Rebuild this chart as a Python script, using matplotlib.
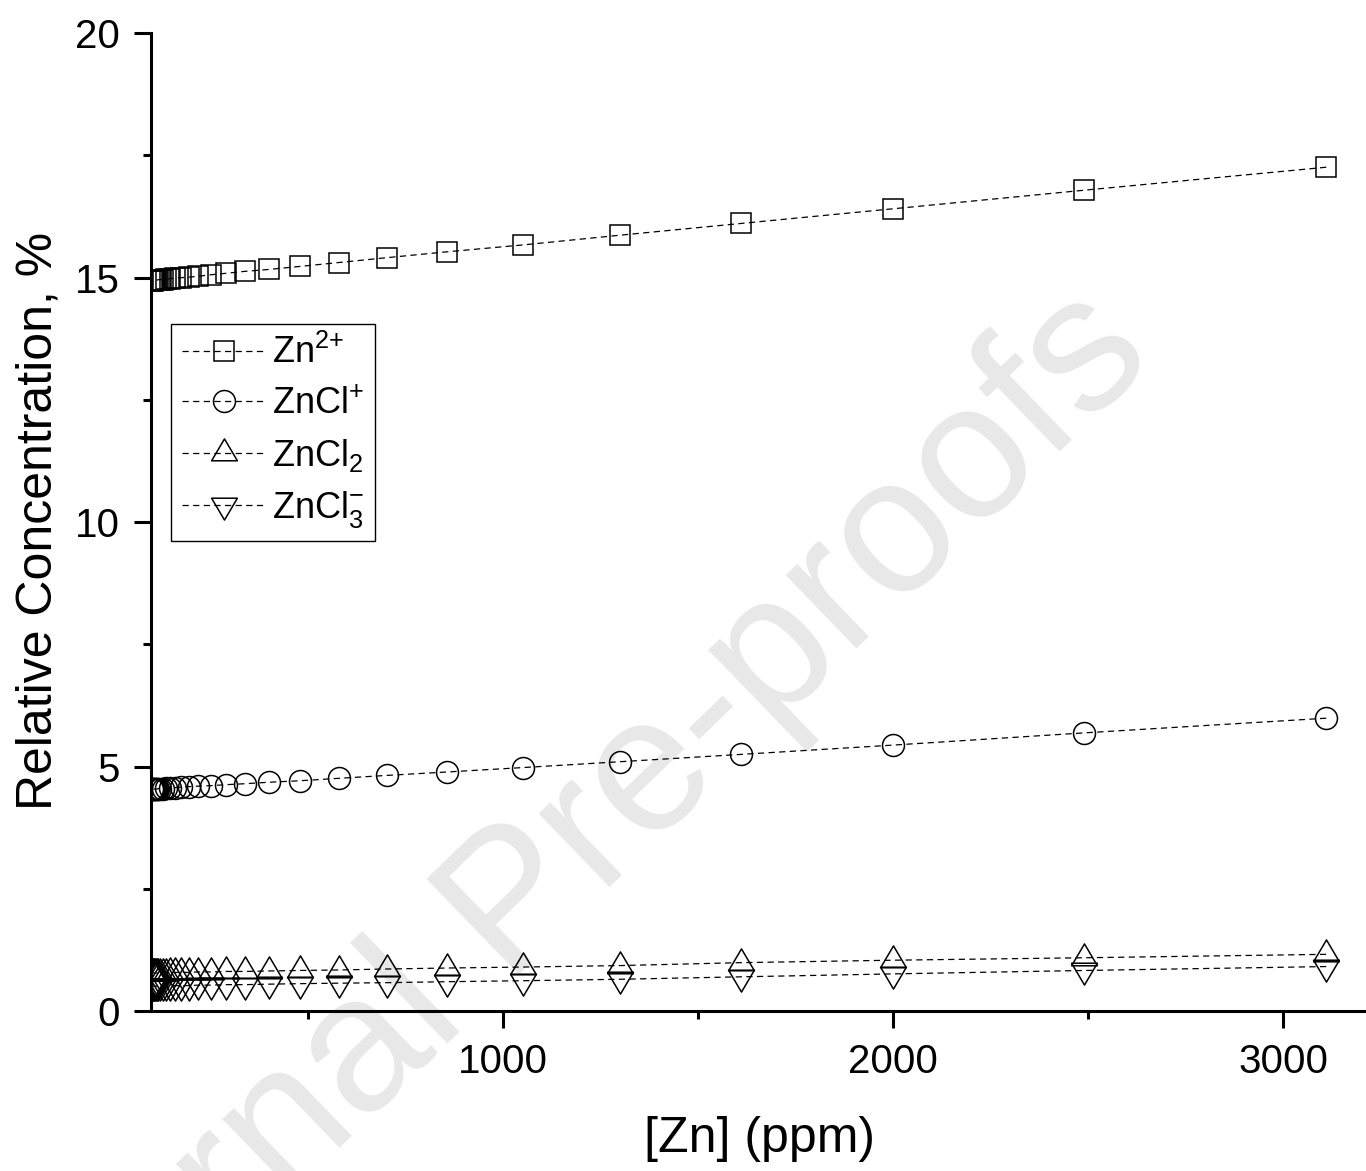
import matplotlib
matplotlib.use("Agg")
import matplotlib.pyplot as plt
from matplotlib.path import Path
from matplotlib.ticker import MultipleLocator

plt.rcParams['font.family'] = ['Liberation Sans', 'DejaVu Sans']
plt.rcParams['mathtext.fontset'] = 'custom'
plt.rcParams['mathtext.rm'] = 'Liberation Sans'
plt.rcParams['mathtext.it'] = 'Liberation Sans:italic'
plt.rcParams['mathtext.bf'] = 'Liberation Sans:bold'

# --- speciation data: total Zn (ppm) vs relative concentration (%) ---
zn_ppm = [3110, 2490, 2000, 1610, 1300, 1050, 856, 702, 578, 478,
          400, 338, 289, 250, 218, 193, 173, 158, 145, 135,
          127, 121, 116, 112, 109, 106, 104, 103, 101, 100]

zn2 = [17.26, 16.79, 16.41, 16.11, 15.87, 15.67, 15.53, 15.41, 15.31, 15.23,
       15.17, 15.13, 15.09, 15.06, 15.03, 15.01, 15.00, 14.99, 14.98, 14.97,
       14.96, 14.96, 14.96, 14.95, 14.95, 14.95, 14.95, 14.95, 14.94, 14.94]

zncl = [5.99, 5.69, 5.44, 5.25, 5.10, 4.98, 4.89, 4.82, 4.76, 4.71,
        4.68, 4.65, 4.63, 4.61, 4.60, 4.59, 4.58, 4.57, 4.56, 4.56,
        4.55, 4.55, 4.55, 4.54, 4.54, 4.54, 4.54, 4.54, 4.54, 4.54]

zncl2 = [1.16, 1.09, 1.04, 0.99, 0.93, 0.90, 0.88, 0.86, 0.84, 0.83,
         0.82, 0.81, 0.81, 0.80, 0.80, 0.79, 0.79, 0.79, 0.79, 0.78,
         0.78, 0.78, 0.78, 0.78, 0.78, 0.78, 0.78, 0.78, 0.78, 0.78]

zncl3 = [0.91, 0.83, 0.76, 0.70, 0.65, 0.62, 0.60, 0.58, 0.57, 0.56,
         0.55, 0.54, 0.54, 0.53, 0.53, 0.52, 0.52, 0.52, 0.52, 0.51,
         0.51, 0.51, 0.51, 0.51, 0.51, 0.51, 0.51, 0.51, 0.51, 0.51]

labels = [r'Zn$^{2{+}}$', r'ZnCl$^{{+}}$',
          r'ZnCl$_{2}$', r'ZnCl$_{3}^{{-}}$']

# triangles anchored on their centroid (Origin style)
tri_up = Path([(0, 2/3), (-0.59, -1/3), (0.59, -1/3), (0, 2/3)], closed=True)
tri_dn = Path([(0, -2/3), (-0.59, 1/3), (0.59, 1/3), (0, -2/3)], closed=True)

fig = plt.figure(figsize=(13.66, 11.71), dpi=100)
ax = fig.add_axes([0.1103, 0.1366, 0.8897, 0.835])
ax.set_facecolor('none')

fig.text(0.403, 0.253, 'Journal Pre-proofs', rotation=44, fontsize=139,
         color='#e8e8e8', ha='center', va='center', zorder=-1)

line_kw = dict(color='black', lw=0.9, dashes=(5, 3.5), mfc='none',
               mec='black', mew=1.1)
ax.plot(zn_ppm, zn2, marker='s', ms=14.4, label=labels[0], **line_kw)
ax.plot(zn_ppm, zncl, marker='o', ms=15.8, label=labels[1], **line_kw)
ax.plot(zn_ppm, zncl2, marker=tri_up, ms=21, label=labels[2], **line_kw)
ax.plot(zn_ppm, zncl3, marker=tri_dn, ms=21, label=labels[3], **line_kw)

ax.set_xlim(96, 3212)
ax.set_ylim(0, 20)
ax.xaxis.set_major_locator(MultipleLocator(1000))
ax.xaxis.set_minor_locator(MultipleLocator(500))
ax.yaxis.set_major_locator(MultipleLocator(5))
ax.yaxis.set_minor_locator(MultipleLocator(2.5))

for side in ('top', 'right'):
    ax.spines[side].set_visible(False)
for side in ('left', 'bottom'):
    ax.spines[side].set_linewidth(2.2)

ax.tick_params(which='major', direction='out', length=12, width=2.2,
               labelsize=29)
ax.tick_params(which='minor', direction='out', length=5.5, width=2.2)
ax.tick_params(axis='y', which='major', pad=10)
ax.tick_params(axis='x', which='major', pad=11)

ax.set_xlabel('[Zn] (ppm)', fontsize=36)
ax.set_ylabel('Relative Concentration, %', fontsize=36)
ax.xaxis.set_label_coords(0.501, -0.107)
ax.yaxis.set_label_coords(-0.073, 0.501)

leg = ax.legend(loc='upper left', bbox_to_anchor=(0.0167, 0.7025),
                borderaxespad=0, fontsize=26, fancybox=False, framealpha=1,
                edgecolor='black', handlelength=2.35, handletextpad=0.15,
                labelspacing=0.42, borderpad=0.3)
leg.get_frame().set_linewidth(1.0)

fig.savefig('out.png', dpi=100)
